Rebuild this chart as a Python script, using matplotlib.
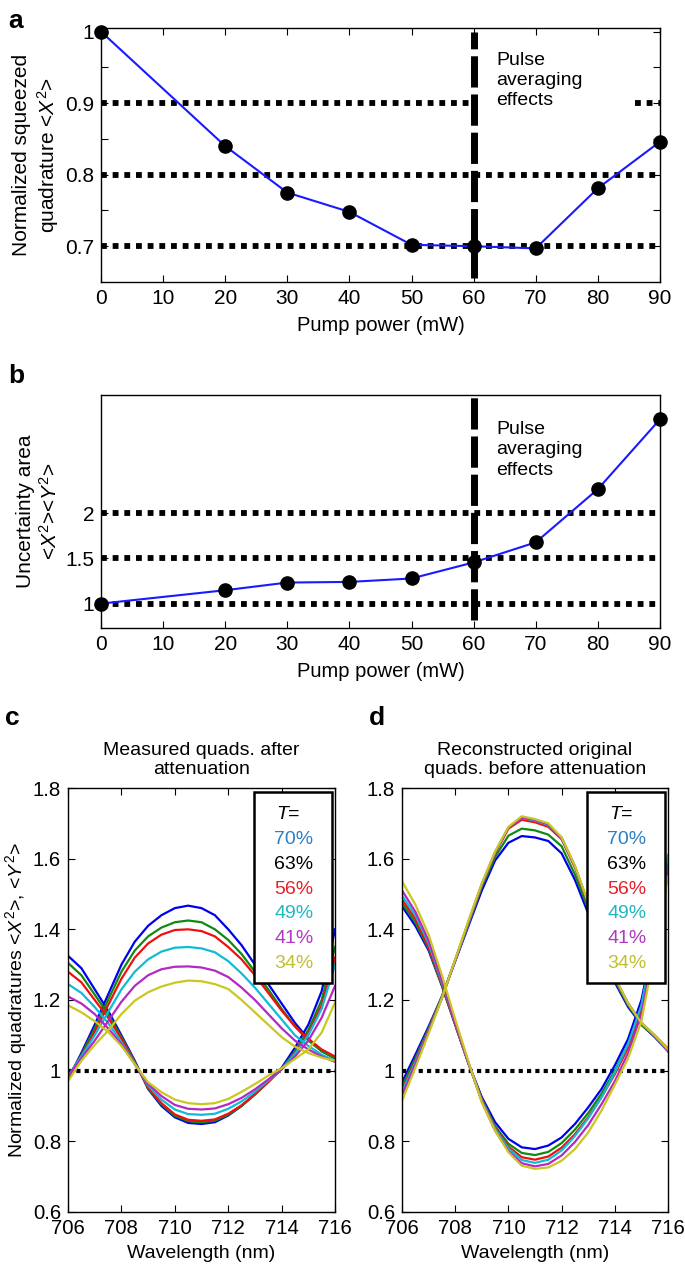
import matplotlib
matplotlib.use('Agg')
import matplotlib.pyplot as plt
from matplotlib.patches import Rectangle

plt.rcParams['font.family'] = ['Liberation Sans', 'DejaVu Sans']
plt.rcParams['mathtext.fontset'] = 'custom'
plt.rcParams['mathtext.rm'] = 'Liberation Sans'
plt.rcParams['mathtext.it'] = 'Liberation Sans:italic'
plt.rcParams['mathtext.bf'] = 'Liberation Sans:bold'
plt.rcParams['xtick.direction'] = 'in'
plt.rcParams['ytick.direction'] = 'in'
plt.rcParams['axes.linewidth'] = 1.0

# Panels a and b: squeezing vs pump power
pump_mw = [0, 20, 30, 40, 50, 60, 70, 80, 90]
squeezed_x2 = [1.0, 0.84, 0.775, 0.748, 0.702, 0.700, 0.697, 0.781, 0.846]
uncert_area = [1.0, 1.148, 1.233, 1.24, 1.278, 1.456, 1.678, 2.267, 3.04]
cutoff_mw = 60
a_levels = [0.7, 0.8, 0.9]
b_levels = [1.0, 1.5, 2.0]

# Panels c and d: quadratures vs wavelength
wavelength = [706, 706.5, 707, 707.5, 708, 708.5, 709, 709.5, 710, 710.5, 711,
              711.5, 712, 712.5, 713, 713.5, 714, 714.5, 715, 715.5, 716]
t_labels = ['70%', '63%', '56%', '49%', '41%', '34%']

meas_anti_70 = [0.975, 1.05, 1.13, 1.215, 1.30, 1.365, 1.41, 1.44, 1.46, 1.467, 1.46, 1.44, 1.40, 1.355, 1.30, 1.245, 1.19, 1.135, 1.09, 1.055, 1.035]
meas_anti_63 = [0.98, 1.045, 1.12, 1.20, 1.28, 1.34, 1.38, 1.405, 1.42, 1.425, 1.42, 1.40, 1.37, 1.33, 1.28, 1.23, 1.175, 1.125, 1.085, 1.055, 1.035]
meas_anti_56 = [0.98, 1.04, 1.11, 1.185, 1.26, 1.32, 1.36, 1.385, 1.398, 1.40, 1.395, 1.38, 1.35, 1.315, 1.27, 1.22, 1.17, 1.125, 1.09, 1.06, 1.04]
meas_anti_49 = [0.985, 1.04, 1.10, 1.165, 1.23, 1.28, 1.315, 1.337, 1.348, 1.35, 1.346, 1.335, 1.31, 1.275, 1.235, 1.19, 1.145, 1.10, 1.07, 1.045, 1.028]
meas_anti_41 = [0.985, 1.035, 1.085, 1.14, 1.195, 1.24, 1.27, 1.287, 1.294, 1.295, 1.292, 1.283, 1.265, 1.235, 1.20, 1.16, 1.12, 1.085, 1.06, 1.04, 1.025]
meas_anti_34 = [0.97, 1.028, 1.073, 1.113, 1.16, 1.198, 1.222, 1.238, 1.249, 1.255, 1.253, 1.245, 1.231, 1.20, 1.165, 1.13, 1.095, 1.068, 1.05, 1.037, 1.028]

meas_sq_70 = [1.325, 1.29, 1.23, 1.17, 1.10, 1.028, 0.948, 0.90, 0.868, 0.852, 0.849, 0.854, 0.873, 0.90, 0.934, 0.972, 1.008, 1.065, 1.13, 1.225, 1.40]
meas_sq_63 = [1.305, 1.27, 1.215, 1.16, 1.095, 1.025, 0.95, 0.905, 0.872, 0.857, 0.854, 0.858, 0.875, 0.90, 0.932, 0.968, 1.005, 1.055, 1.115, 1.20, 1.35]
meas_sq_56 = [1.28, 1.25, 1.20, 1.15, 1.09, 1.022, 0.952, 0.908, 0.876, 0.861, 0.858, 0.862, 0.878, 0.902, 0.933, 0.968, 1.004, 1.05, 1.105, 1.185, 1.32]
meas_sq_49 = [1.245, 1.22, 1.18, 1.135, 1.08, 1.02, 0.958, 0.918, 0.89, 0.877, 0.875, 0.878, 0.892, 0.913, 0.94, 0.972, 1.004, 1.048, 1.10, 1.175, 1.30]
meas_sq_41 = [1.21, 1.19, 1.16, 1.12, 1.075, 1.018, 0.962, 0.928, 0.903, 0.892, 0.89, 0.893, 0.905, 0.923, 0.947, 0.975, 1.004, 1.04, 1.085, 1.15, 1.24]
meas_sq_34 = [1.185, 1.165, 1.14, 1.11, 1.07, 1.018, 0.967, 0.939, 0.918, 0.908, 0.905, 0.908, 0.92, 0.94, 0.962, 0.986, 1.007, 1.033, 1.06, 1.108, 1.193]

rec_anti_70 = [0.967, 1.045, 1.125, 1.21, 1.31, 1.41, 1.51, 1.595, 1.645, 1.664, 1.66, 1.65, 1.615, 1.54, 1.445, 1.35, 1.25, 1.18, 1.13, 1.095, 1.055]
rec_anti_63 = [0.955, 1.035, 1.12, 1.21, 1.312, 1.415, 1.52, 1.605, 1.665, 1.685, 1.68, 1.668, 1.635, 1.555, 1.458, 1.36, 1.255, 1.185, 1.13, 1.097, 1.057]
rec_anti_56 = [0.945, 1.028, 1.115, 1.207, 1.313, 1.42, 1.525, 1.615, 1.685, 1.71, 1.703, 1.69, 1.655, 1.575, 1.47, 1.365, 1.26, 1.19, 1.135, 1.10, 1.062]
rec_anti_49 = [0.94, 1.024, 1.112, 1.206, 1.313, 1.42, 1.527, 1.618, 1.688, 1.715, 1.708, 1.695, 1.66, 1.578, 1.473, 1.367, 1.262, 1.19, 1.135, 1.098, 1.055]
rec_anti_41 = [0.93, 1.018, 1.11, 1.205, 1.313, 1.422, 1.528, 1.618, 1.688, 1.716, 1.71, 1.697, 1.658, 1.578, 1.473, 1.367, 1.262, 1.19, 1.135, 1.098, 1.055]
rec_anti_34 = [0.915, 1.008, 1.105, 1.205, 1.315, 1.425, 1.53, 1.62, 1.69, 1.72, 1.712, 1.70, 1.66, 1.58, 1.475, 1.37, 1.265, 1.19, 1.135, 1.10, 1.06]

rec_sq_70 = [1.465, 1.41, 1.34, 1.24, 1.13, 1.02, 0.925, 0.854, 0.807, 0.783, 0.778, 0.788, 0.811, 0.849, 0.896, 0.948, 1.015, 1.09, 1.20, 1.38, 1.59]
rec_sq_63 = [1.475, 1.42, 1.345, 1.24, 1.13, 1.02, 0.92, 0.843, 0.793, 0.767, 0.761, 0.77, 0.795, 0.833, 0.88, 0.935, 1.00, 1.075, 1.18, 1.37, 1.57]
rec_sq_56 = [1.485, 1.43, 1.35, 1.245, 1.13, 1.02, 0.918, 0.838, 0.785, 0.755, 0.748, 0.757, 0.782, 0.82, 0.868, 0.925, 0.99, 1.065, 1.17, 1.36, 1.57]
rec_sq_49 = [1.495, 1.44, 1.36, 1.25, 1.135, 1.022, 0.915, 0.835, 0.78, 0.747, 0.739, 0.748, 0.774, 0.815, 0.865, 0.925, 0.995, 1.075, 1.185, 1.38, 1.61]
rec_sq_41 = [1.51, 1.45, 1.368, 1.255, 1.135, 1.022, 0.912, 0.83, 0.773, 0.738, 0.729, 0.736, 0.76, 0.798, 0.846, 0.905, 0.97, 1.05, 1.16, 1.36, 1.58]
rec_sq_34 = [1.536, 1.47, 1.385, 1.27, 1.145, 1.025, 0.91, 0.83, 0.769, 0.731, 0.722, 0.726, 0.745, 0.778, 0.825, 0.887, 0.96, 1.035, 1.14, 1.34, 1.55]

meas_anti = [meas_anti_70, meas_anti_63, meas_anti_56, meas_anti_49, meas_anti_41, meas_anti_34]
meas_sq = [meas_sq_70, meas_sq_63, meas_sq_56, meas_sq_49, meas_sq_41, meas_sq_34]
rec_anti = [rec_anti_70, rec_anti_63, rec_anti_56, rec_anti_49, rec_anti_41, rec_anti_34]
rec_sq = [rec_sq_70, rec_sq_63, rec_sq_56, rec_sq_49, rec_sq_41, rec_sq_34]

line_colors = ['#0000ee', '#108a10', '#ee1010', '#10bcd4', '#b428c4', '#c8c820']
label_colors = ['#2e7ec4', '#000000', '#e8202a', '#20b8c0', '#b03ac0', '#c0c030']

fig = plt.figure(figsize=(6.85, 12.72), dpi=100)

dot_style = dict(color='k', lw=4.2, linestyle=(0, (1, 1)), dash_capstyle='butt')
dash_style = dict(color='k', lw=5, dashes=(4.5, 1), dash_capstyle='butt')

# ---- panel a ----
ax = fig.add_axes([0.1474, 0.7783, 0.816, 0.1997])
for lev in a_levels:
    if lev == 0.9:
        ax.plot([0, cutoff_mw], [lev, lev], **dot_style)
        ax.plot([86, 90], [lev, lev], **dot_style)
    else:
        ax.plot([0, 90], [lev, lev], **dot_style)
ax.plot([cutoff_mw, cutoff_mw], [0.656, 1.0], **dash_style)
ax.plot(pump_mw, squeezed_x2, color='#1a1aff', lw=1.5, marker='o', ms=9.5,
        mfc='k', mec='k', clip_on=False, zorder=5)
ax.text(63.6, 0.972, 'Pulse\naveraging\neffects', va='top', fontsize=14, linespacing=1.25)
ax.set_xlim(0, 90)
ax.set_ylim(0.65, 1.005)
ax.set_xticks(range(0, 100, 10))
ax.set_yticks([0.7, 0.75, 0.8, 0.85, 0.9, 0.95, 1.0])
ax.set_yticklabels(['0.7', '', '0.8', '', '0.9', '', '1'])
ax.tick_params(labelsize=15, top=True, right=True, length=5, pad=5)
ax.set_xlabel('Pump power (mW)', fontsize=14.5, labelpad=6)
ax.set_ylabel('Normalized squeezed\nquadrature <$X^2$>', fontsize=15, labelpad=3)
fig.text(0.012, 0.993, 'a', fontsize=19, fontweight='bold', va='top')

# ---- panel b ----
ax = fig.add_axes([0.1474, 0.5063, 0.816, 0.1832])
for lev in b_levels:
    ax.plot([0, 90], [lev, lev], **dot_style)
ax.plot([cutoff_mw, cutoff_mw], [0.815, 3.31], **dash_style)
ax.plot(pump_mw, uncert_area, color='#1a1aff', lw=1.5, marker='o', ms=9.5,
        mfc='k', mec='k', clip_on=False, zorder=5)
ax.text(63.6, 3.02, 'Pulse\naveraging\neffects', va='top', fontsize=14, linespacing=1.25)
ax.set_xlim(0, 90)
ax.set_ylim(0.73, 3.31)
ax.set_xticks(range(0, 100, 10))
ax.set_yticks([1, 1.5, 2])
ax.set_yticklabels(['1', '1.5', '2'])
ax.tick_params(labelsize=15, length=5, pad=5)
ax.set_xlabel('Pump power (mW)', fontsize=14.5, labelpad=6)
ax.set_ylabel('Uncertainty area\n<$X^2$><$Y^2$>', fontsize=15, labelpad=3)
fig.text(0.012, 1 - 376 / 1272, 'b', fontsize=19, fontweight='bold', va='center')


# ---- panels c and d ----
def quad_panel(rect, anti, sq, title, letter, letter_x, ylabel):
    ax = fig.add_axes(rect)
    ax.plot([706, 716], [1, 1], color='k', lw=3, linestyle=(0, (1, 1)), dash_capstyle='butt')
    for a_vals, s_vals, col in zip(anti, sq, line_colors):
        ax.plot(wavelength, a_vals, color=col, lw=1.6)
        ax.plot(wavelength, s_vals, color=col, lw=1.6)
    ax.set_xlim(706, 716)
    ax.set_ylim(0.6, 1.8)
    ax.set_xticks([706, 708, 710, 712, 714, 716])
    ax.set_yticks([0.6, 0.8, 1.0, 1.2, 1.4, 1.6, 1.8])
    ax.set_yticklabels(['0.6', '0.8', '1', '1.2', '1.4', '1.6', '1.8'])
    ax.tick_params(labelsize=14.7, top=True, right=True, length=5, pad=5)
    ax.set_xlabel('Wavelength (nm)', fontsize=14, labelpad=5)
    if ylabel:
        ax.set_ylabel('Normalized quadratures <$X^2$>, <$Y^2$>', fontsize=14, labelpad=3)
    ax.set_title(title, fontsize=14, pad=10, linespacing=1.15)
    # legend box
    ax.add_patch(Rectangle((712.95, 1.249), 2.95, 0.541, facecolor='white',
                           edgecolor='k', lw=1.8, zorder=10))
    ax.text(713.8, 1.724, '$T$=', fontsize=14, va='center', zorder=11)
    for i, (lab, col) in enumerate(zip(t_labels, label_colors)):
        ax.text(713.72, 1.653 - i * 0.0698, lab, color=col, fontsize=14,
                va='center', zorder=11)
    fig.text(letter_x, 1 - 718 / 1272, letter, fontsize=19, fontweight='bold', va='center')
    return ax


quad_panel([0.0993, 0.0472, 0.3898, 0.3333], meas_anti, meas_sq,
           'Measured quads. after\nattenuation', 'c', 0.008, True)
quad_panel([0.5869, 0.0472, 0.3883, 0.3333], rec_anti, rec_sq,
           'Reconstructed original\nquads. before attenuation', 'd', 0.538, False)

fig.savefig('out.png', dpi=100)
